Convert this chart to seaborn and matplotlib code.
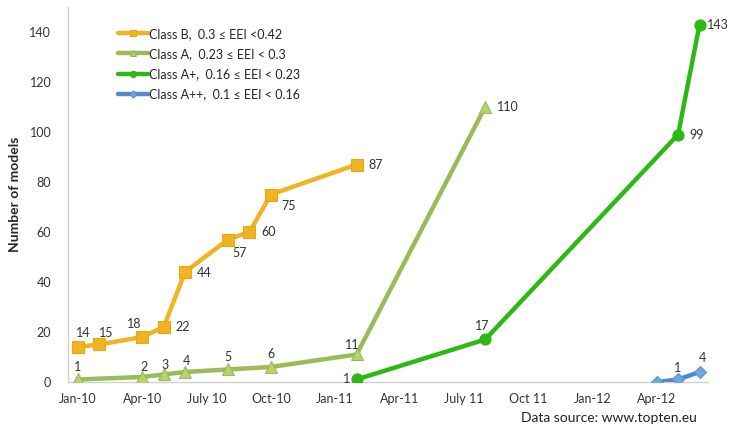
import matplotlib
matplotlib.use("Agg")
import matplotlib.pyplot as plt
import seaborn as sns
import pandas as pd

# Months counted from Jan 2010 (0 = Jan-10)
class_b_months = [0, 1, 3, 4, 5, 7, 8, 9, 13]
class_b_values = [14, 15, 18, 22, 44, 57, 60, 75, 87]

class_a_months = [0, 3, 4, 5, 7, 9, 13, 19]
class_a_values = [1, 2, 3, 4, 5, 6, 11, 110]

class_ap_months = [13, 19, 28, 29]
class_ap_values = [1, 17, 99, 143]

class_app_months = [27, 28, 29]
class_app_values = [0, 1, 4]

tick_months = [0, 3, 6, 9, 12, 15, 18, 21, 24, 27]
tick_labels = ["Jan-10", "Apr-10", "July 10", "Oct-10", "Jan-11",
               "Apr-11", "July 11", "Oct 11", "Jan-12", "Apr-12"]

series_names = ["Class B,  0.3 \u2264 EEI <0.42",
                "Class A,  0.23 \u2264 EEI < 0.3",
                "Class A+,  0.16 \u2264 EEI < 0.23",
                "Class A++,  0.1 \u2264 EEI < 0.16"]

sns.set_style("white")
plt.rcParams["font.family"] = ["Lato", "DejaVu Sans"]

fig = plt.figure(figsize=(7.30, 4.29), dpi=100)
ax = fig.add_axes([0.093, 0.1096, 0.877, 0.874])

styles = [
    dict(color="#F0B323", marker="s", ms=9, mfc="#F0B323", mec="#E8A812"),
    dict(color="#9BBB59", marker="^", ms=9, mfc="#B5D46A", mec="#9BBB59"),
    dict(color="#2DB814", marker="o", ms=8, mfc="#2DB814", mec="#2DB814"),
    dict(color="#5588CC", marker="D", ms=6.5, mfc="#6FA8E0", mec="#5A8FD0"),
]
series = [
    (class_b_months, class_b_values),
    (class_a_months, class_a_values),
    (class_ap_months, class_ap_values),
    (class_app_months, class_app_values),
]

for name, (xs, ys), st in zip(series_names, series, styles):
    df = pd.DataFrame({"month": xs, "count": ys})
    sns.lineplot(data=df, x="month", y="count", ax=ax, color=st["color"],
                 linewidth=3.2, marker=st["marker"], markersize=st["ms"],
                 markerfacecolor=st["mfc"], markeredgecolor=st["mec"],
                 markeredgewidth=0.8, label=name, zorder=3)

# Value labels: offsets in points for each series
label_offsets = [
    [(4, 10), (5, 8), (-6, 9), (14, 0), (14, -1), (8, -10), (14, 0), (13, -8), (14, 0)],
    [(0, 9), (1, 7), (1, 7), (1, 8), (0, 9), (0, 9), (-3, 7), (16, 0)],
    [(-7, 0), (-2, 10), (13, 0), (13, 0)],
    [(0, 8), (0, 8), (2, 10)],
]
for (xs, ys), offs in zip(series, label_offsets):
    for x, y, (dx, dy) in zip(xs, ys, offs):
        if (xs, ys) == (class_app_months, class_app_values) and y == 0:
            continue
        ax.annotate(str(y), (x, y), xytext=(dx, dy), textcoords="offset points",
                    ha="center", va="center", fontsize=9, color="#333333",
                    zorder=4)

ax.set_xlim(-0.47, 29.4)
ax.set_ylim(0, 150)
ax.set_xticks(tick_months)
ax.set_xticklabels(tick_labels)
ax.set_yticks(range(0, 141, 20))
ax.tick_params(axis="both", length=0, labelsize=9, colors="#333333")
ax.tick_params(axis="x", pad=8)
ax.tick_params(axis="y", pad=12)
for s in ["top", "right"]:
    ax.spines[s].set_visible(False)
for s in ["left", "bottom"]:
    ax.spines[s].set_color("#D0D0D0")
    ax.spines[s].set_linewidth(1.0)

ax.set_xlabel("")
ax.set_ylabel("Number of models", fontsize=10, fontweight="bold", labelpad=6)

leg = ax.legend(loc="upper left", bbox_to_anchor=(0.06, 0.975), frameon=False,
                fontsize=9, handlelength=2.4, handletextpad=0.1,
                labelspacing=0.65, markerscale=0.55)

fig.text(0.955, 0.012, "Data source: www.topten.eu", ha="right", va="bottom",
         fontsize=10, color="#222222")

fig.savefig("out.png", dpi=100)
